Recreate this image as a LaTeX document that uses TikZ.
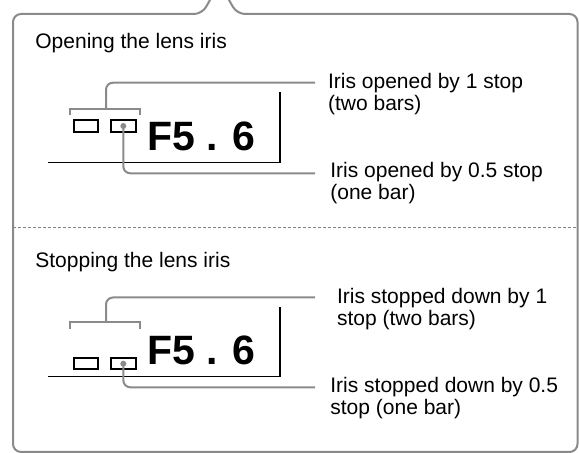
\documentclass[tikz,border=0pt]{standalone}
\usepackage{fontspec}
\setmainfont{Liberation Sans}
\usetikzlibrary{positioning}
\begin{document}
\begin{tikzpicture}[x=0.5pt,y=-0.5pt,
  frame/.style={draw=black!46,line width=1pt,rounded corners=4pt},
  leader/.style={draw=black!46,line width=1pt,rounded corners=3.5pt},
  lcd/.style={draw=black,line width=0.7pt},
  txt/.style={font=\fontsize{10.5}{11}\selectfont,align=left,inner sep=0pt,anchor=north west},
  fnum/.style={font=\fontsize{20.5}{22}\selectfont\bfseries,inner sep=0pt,anchor=base west},
  bar/.style={draw=black,line width=1pt,minimum width=12.2pt,minimum height=5.8pt,inner sep=0pt},
  dot/.style={circle,fill=black!46,minimum size=3pt,inner sep=0pt}]
  \useasboundingbox (0,0) rectangle (579,453);
  % callout frame
  \draw[frame] (13,452) -- (13,14) -- (202,14) -- (219.5,-16.6)
    -- (237,14) -- (577.5,14) -- (577.5,452) -- cycle;
  \draw[draw=black!50,line width=0.5pt,dash pattern=on 1.5pt off 1pt] (13,228) -- (577.5,228);

  % opening
  \node[txt] (open) at (35,33) {Opening the lens iris};
  \draw[lcd] (48,162.3) -- (280,162.3) -- (280,92.3);
  \node[fnum] (fa) at (146.7,150.7) {F5 . 6};
  \node[bar] (a1) at (85.8,126) {};
  \node[bar] (a2) at (123.3,126) {};
  \node[dot] (ad) at (a2.center) {};
  \draw[leader,rounded corners=0pt] (70,115) -- (70,109.3) -- (140,109.3) -- (140,115);
  \coordinate (ab) at (106,109.3);
  \node[txt] (aup) at (327.7,73) {Iris opened by 1 stop\\(two bars)};
  \node[txt] (alow) at (330,161.5) {Iris opened by 0.5 stop\\(one bar)};
  \draw[leader] (ab) |- ([xshift=-6.35pt,yshift=-4.85pt]aup.north west);
  \draw[leader] (ad.center) |- ([xshift=-7.5pt,yshift=-5.9pt]alow.north west);

  % stopping down
  \node[txt] (stop) at (35,251.5) {Stopping the lens iris};
  \draw[lcd] (48,376.7) -- (280,376.7) -- (280,306.7);
  \node[fnum] (fb) at (146.7,364.3) {F5 . 6};
  \node[bar] (b1) at (85.8,363.7) {};
  \node[bar] (b2) at (123.3,363.7) {};
  \node[dot] (bd) at (b2.center) {};
  \draw[leader,rounded corners=0pt] (70,329.3) -- (70,321.7) -- (140,321.7) -- (140,329.3);
  \coordinate (bb) at (106,321.7);
  \node[txt] (bup) at (336.7,288.1) {Iris stopped down by 1\\stop (two bars)};
  \node[txt] (blow) at (330,376.5) {Iris stopped down by 0.5\\stop (one bar)};
  \draw[leader] (bb) |- ([xshift=-10.85pt,yshift=-4.7pt]bup.north west);
  \draw[leader] (bd.center) |- ([xshift=-7.5pt,yshift=-5.4pt]blow.north west);
\end{tikzpicture}
\end{document}
